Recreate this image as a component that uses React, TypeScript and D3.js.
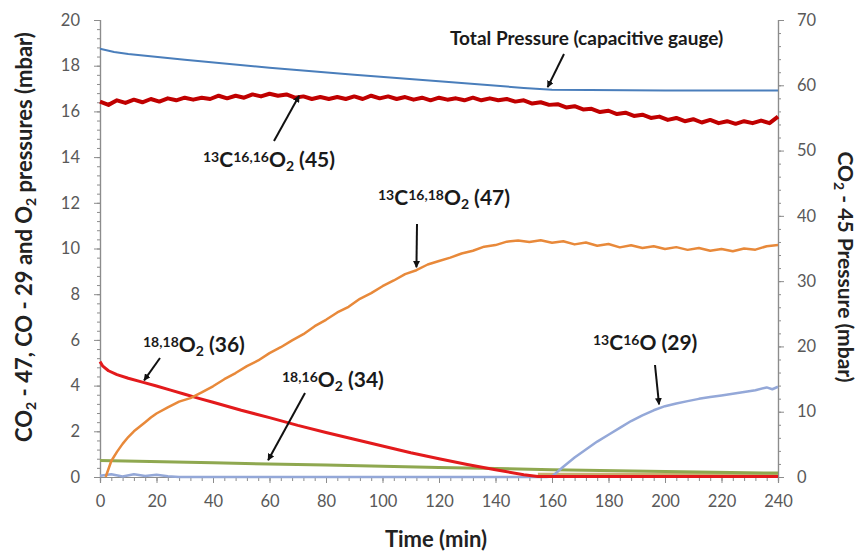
import React, { useEffect, useRef } from 'react';
import * as d3 from 'd3';

// time (min) / pressure (mbar)
const totalPressure = [[0, 65.6], [5, 65.1], [10, 64.8], [30, 63.9], [60, 62.7], [90, 61.6], [120, 60.6], [150, 59.6], [160, 59.3], [200, 59.2], [240, 59.2]];

const co2_45 = [[0, 57.5], [3, 57.0], [6, 57.7], [9, 57.3], [12, 57.8], [15, 57.4], [18, 57.9], [21, 57.5], [24, 58.0], [27, 57.7], [30, 58.1], [33, 57.8], [36, 58.1], [39, 57.9], [42, 58.4], [45, 58.0], [48, 58.4], [51, 58.1], [54, 58.6], [57, 58.3], [60, 58.7], [63, 58.4], [66, 58.6], [69, 58.1], [72, 58.3], [75, 57.9], [78, 58.2], [81, 57.9], [84, 58.2], [87, 57.9], [90, 58.3], [93, 57.9], [96, 58.4], [99, 58.0], [102, 58.3], [105, 57.9], [108, 58.2], [111, 57.8], [114, 58.1], [117, 57.7], [120, 58.1], [123, 57.8], [126, 58.0], [129, 57.7], [132, 58.1], [135, 57.7], [138, 58.0], [141, 57.7], [144, 57.9], [147, 57.5], [150, 57.7], [153, 57.2], [156, 57.4], [159, 57.0], [162, 57.1], [165, 56.6], [168, 56.8], [171, 56.3], [174, 56.4], [177, 55.9], [180, 56.1], [183, 55.6], [186, 55.8], [189, 55.3], [192, 55.5], [195, 55.0], [198, 55.2], [201, 54.7], [204, 55.0], [207, 54.5], [210, 54.8], [213, 54.3], [216, 54.7], [219, 54.2], [222, 54.5], [225, 54.1], [228, 54.5], [231, 54.2], [234, 54.6], [237, 54.2], [240, 55.2]];

const co2_47 = [[2, 0], [4, 0.7], [6, 1.1], [8, 1.45], [10, 1.75], [12, 2.0], [14, 2.2], [16, 2.4], [18, 2.6], [20, 2.78], [24, 3.05], [28, 3.3], [32, 3.45], [36, 3.7], [40, 3.97], [44, 4.28], [48, 4.55], [52, 4.85], [56, 5.1], [60, 5.42], [64, 5.68], [68, 5.98], [72, 6.25], [76, 6.6], [80, 6.88], [84, 7.2], [88, 7.45], [92, 7.8], [96, 8.05], [100, 8.35], [104, 8.6], [108, 8.88], [112, 9.05], [116, 9.3], [120, 9.45], [124, 9.6], [128, 9.78], [132, 9.9], [136, 10.08], [140, 10.15], [144, 10.3], [148, 10.35], [152, 10.28], [156, 10.36], [160, 10.25], [164, 10.32], [168, 10.18], [172, 10.26], [176, 10.12], [180, 10.2], [184, 10.05], [188, 10.14], [192, 10.02], [196, 10.1], [200, 9.98], [204, 10.06], [208, 9.94], [212, 10.02], [216, 9.9], [220, 9.98], [224, 9.88], [228, 10.0], [232, 9.95], [236, 10.1], [240, 10.15]];

const o2_36 = [[0, 5.05], [1, 4.85], [3, 4.65], [6, 4.48], [10, 4.32], [15, 4.15], [20, 3.98], [25, 3.8], [30, 3.62], [35, 3.44], [40, 3.27], [50, 2.92], [60, 2.6], [70, 2.26], [80, 1.95], [90, 1.65], [100, 1.36], [110, 1.06], [120, 0.8], [130, 0.55], [140, 0.32], [150, 0.1], [155, 0.02], [160, 0.02], [240, 0.02]];

const o2_34 = [[0, 0.72], [40, 0.62], [80, 0.52], [120, 0.42], [160, 0.32], [200, 0.24], [240, 0.17]];

const co_29 = [[0, 0.05], [4, 0.12], [8, 0.02], [12, 0.12], [16, 0.04], [20, 0.1], [24, 0.03], [28, 0], [158, 0], [160, 0.02], [164, 0.45], [168, 0.85], [172, 1.2], [176, 1.55], [180, 1.85], [184, 2.15], [188, 2.45], [192, 2.7], [196, 2.92], [200, 3.1], [204, 3.22], [208, 3.32], [212, 3.42], [216, 3.5], [220, 3.57], [224, 3.64], [228, 3.72], [232, 3.8], [236, 3.92], [238, 3.84], [240, 3.95]];

const baseline = [[155, 0.1], [240, 0.1]];

const xTicks = [0, 20, 40, 60, 80, 100, 120, 140, 160, 180, 200, 220, 240];
const yLeftTicks = [0, 2, 4, 6, 8, 10, 12, 14, 16, 18, 20];
const yRightTicks = [0, 10, 20, 30, 40, 50, 60, 70];

const W = 861, H = 556;
const margin = { top: 20, right: 83, bottom: 79, left: 100 };
const font = 'Lato, "Open Sans", sans-serif';

const App = () => {
    const ref = useRef(null);

    useEffect(() => {
        const svg = d3.select(ref.current);
        svg.selectAll('*').remove();

        const x = d3.scaleLinear().domain([0, 240]).range([margin.left, W - margin.right]);
        const yL = d3.scaleLinear().domain([0, 20]).range([H - margin.bottom, margin.top]);
        const yR = d3.scaleLinear().domain([0, 70]).range([H - margin.bottom, margin.top]);

        svg.append('defs').append('marker')
            .attr('id', 'arr').attr('viewBox', '0 0 10 10')
            .attr('refX', 9).attr('refY', 5)
            .attr('markerWidth', 7).attr('markerHeight', 7)
            .attr('markerUnits', 'userSpaceOnUse')
            .attr('orient', 'auto')
            .append('path').attr('d', 'M0,0 L10,5 L0,10 z').attr('fill', '#111');

        const axisColor = '#8c8c8c';
        const tickText = '#595959';
        const y0 = H - margin.bottom;

        // axes: left
        const gAx = svg.append('g');
        gAx.append('g').attr('transform', `translate(${margin.left},0)`)
            .call(d3.axisLeft(yL).tickValues(d3.range(0, 20.01, 0.4)).tickSize(3).tickFormat(() => ''));
        gAx.append('g').attr('transform', `translate(${margin.left},0)`)
            .call(d3.axisLeft(yL).tickValues(yLeftTicks).tickSize(6).tickPadding(14).tickFormat(d3.format('d')));
        // right
        gAx.append('g').attr('transform', `translate(${W - margin.right},0)`)
            .call(d3.axisRight(yR).tickValues(d3.range(0, 70.01, 2)).tickSize(3).tickFormat(() => ''));
        gAx.append('g').attr('transform', `translate(${W - margin.right},0)`)
            .call(d3.axisRight(yR).tickValues(yRightTicks).tickSize(6).tickPadding(13).tickFormat(d3.format('d')));
        // bottom
        gAx.append('g').attr('transform', `translate(0,${y0})`)
            .call(d3.axisBottom(x).tickValues(d3.range(0, 240.01, 4)).tickSize(4).tickFormat(() => ''));
        gAx.append('g').attr('transform', `translate(0,${y0})`)
            .call(d3.axisBottom(x).tickValues(xTicks).tickSize(6).tickPadding(12).tickFormat(d3.format('d')));

        gAx.selectAll('.domain').attr('stroke', axisColor).attr('stroke-width', 1.2);
        gAx.selectAll('.tick line').attr('stroke', axisColor);
        gAx.selectAll('.tick text').attr('fill', tickText).attr('font-size', 16.5).attr('font-family', font);

        // series
        const lineL = d3.line().x(d => x(d[0])).y(d => yL(d[1]));
        const lineR = d3.line().x(d => x(d[0])).y(d => yR(d[1]));
        const series = [
            { data: baseline, color: '#c8b070', w: 4, line: lineL },
            { data: o2_34, color: '#8fa850', w: 3, line: lineL },
            { data: co_29, color: '#94a8d8', w: 2.5, line: lineL },
            { data: o2_36, color: '#e31a1c', w: 3, line: lineL },
            { data: co2_47, color: '#e8893a', w: 2.5, line: lineL },
            { data: co2_45, color: '#c00000', w: 4, line: lineR },
            { data: totalPressure, color: '#4a7ebb', w: 2, line: lineR },
        ];
        series.forEach(s => {
            svg.append('path')
                .datum(s.data)
                .attr('fill', 'none')
                .attr('stroke', s.color)
                .attr('stroke-width', s.w)
                .attr('stroke-linejoin', 'round')
                .attr('d', s.line);
        });

        // axis titles
        svg.append('text')
            .attr('transform', `translate(436,547)`)
            .attr('text-anchor', 'middle').attr('font-family', font).attr('font-weight', 700)
            .attr('font-size', 22).attr('fill', '#222').text('Time (min)');

        const leftTitle = svg.append('text')
            .attr('transform', `translate(32,237) rotate(-90)`)
            .attr('text-anchor', 'middle').attr('font-family', font).attr('font-weight', 700)
            .attr('font-size', 22).attr('fill', '#222');
        [['CO', 0], ['2', 1], [' - 47, CO - 29 and O', 0], ['2', 1], [' pressures (mbar)', 0]].forEach(([t, sub]) => {
            leftTitle.append('tspan').attr('baseline-shift', sub ? '-25%' : null)
                .attr('font-size', sub ? 14 : null).text(t);
        });

        const rightTitle = svg.append('text')
            .attr('transform', `translate(838,267) rotate(90)`)
            .attr('text-anchor', 'middle').attr('font-family', font).attr('font-weight', 700)
            .attr('font-size', 21).attr('fill', '#222');
        [['CO', 0], ['2', 1], [' - 45 Pressure (mbar)', 0]].forEach(([t, sub]) => {
            rightTitle.append('tspan').attr('baseline-shift', sub ? '-25%' : null)
                .attr('font-size', sub ? 14 : null).text(t);
        });

        // annotations: parts are [text, 'sup' | 'sub' | '']
        const labels = [
            { px: 450, py: 45, size: 19, parts: [['Total Pressure (capacitive gauge)', '']], tip: [158, 59.3, 'R'], tail: [564, 54] },
            { px: 203, py: 167, size: 21, parts: [['13', 'sup'], ['C', ''], ['16,16', 'sup'], ['O', ''], ['2', 'sub'], [' (45)', '']], tip: [71, 58.8, 'R'], tail: [274, 141] },
            { px: 378, py: 205, size: 21, parts: [['13', 'sup'], ['C', ''], ['16,18', 'sup'], ['O', ''], ['2', 'sub'], [' (47)', '']], tip: [112, 9.05, 'L'], tail: [417, 224] },
            { px: 143, py: 352, size: 21, parts: [['18,18', 'sup'], ['O', ''], ['2', 'sub'], [' (36)', '']], tip: [15, 4.12, 'L'], tail: [160, 358] },
            { px: 282, py: 387, size: 21, parts: [['18,16', 'sup'], ['O', ''], ['2', 'sub'], [' (34)', '']], tip: [59, 0.62, 'L'], tail: [305, 393] },
            { px: 593, py: 350, size: 21, parts: [['13', 'sup'], ['C', ''], ['16', 'sup'], ['O (29)', '']], tip: [198, 3.05, 'L'], tail: [655, 365] },
        ];
        labels.forEach(l => {
            const t = svg.append('text').attr('x', l.px).attr('y', l.py)
                .attr('font-family', font).attr('font-weight', 700).attr('font-size', l.size).attr('fill', '#1a1a1a');
            l.parts.forEach(([s, kind]) => {
                t.append('tspan')
                    .attr('baseline-shift', kind === 'sup' ? '38%' : kind === 'sub' ? '-25%' : null)
                    .attr('font-size', kind ? 14 : null)
                    .text(s);
            });
            const [tx, tv, axis] = l.tip;
            const ex = x(tx), ey = (axis === 'R' ? yR : yL)(tv);
            // stop the arrow a few px short of the curve
            const dx = ex - l.tail[0], dy = ey - l.tail[1];
            const len = Math.hypot(dx, dy);
            const k = (len - 3) / len;
            svg.append('line')
                .attr('x1', l.tail[0]).attr('y1', l.tail[1])
                .attr('x2', l.tail[0] + dx * k).attr('y2', l.tail[1] + dy * k)
                .attr('stroke', '#111').attr('stroke-width', 2)
                .attr('marker-end', 'url(#arr)');
        });
    }, []);

    return (
        <>
            <style>{'html, body { margin: 0; padding: 0; overflow: hidden; }'}</style>
            <svg ref={ref} width={W} height={H} style={{ display: 'block', background: '#fff' }} />
        </>
    );
};

export default App;
